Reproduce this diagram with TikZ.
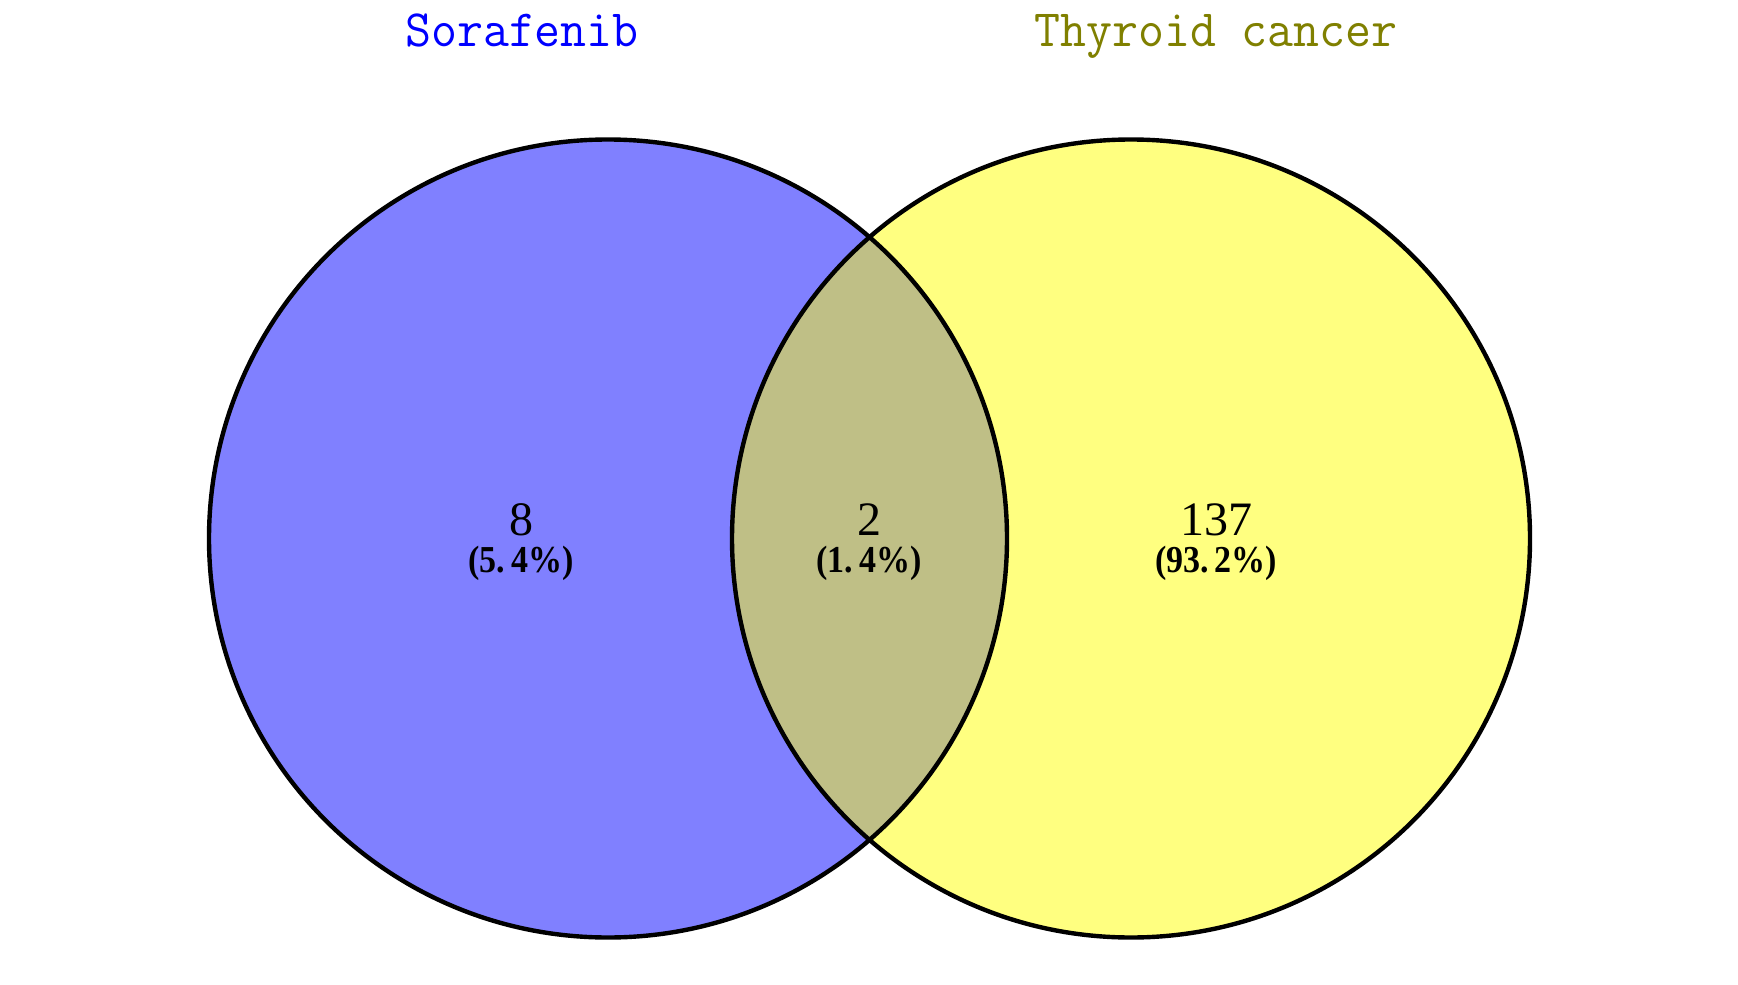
\documentclass[tikz,border=0pt]{standalone}
\usepackage{fontspec}
\setmainfont{Liberation Serif}
\definecolor{setA}{RGB}{128,128,255}
\definecolor{setB}{RGB}{255,255,128}
\definecolor{setAB}{RGB}{191,191,134}
\definecolor{titleA}{RGB}{0,0,255}
\definecolor{titleB}{RGB}{128,128,0}
\begin{document}
\begin{tikzpicture}[x=0.5pt,y=-0.5pt,
  settitle/.style={inner sep=0pt,anchor=base,font=\ttfamily\fontsize{25.2}{27}\selectfont},
  count/.style={inner sep=0pt,anchor=base,font=\fontsize{24}{26}\selectfont},
  pct/.style={inner sep=0pt,anchor=base,font=\bfseries\fontsize{17}{19}\selectfont},
  outline/.style={draw=black,line width=2.2pt}]
\useasboundingbox (0,0) rectangle (1738,984);
\fill[white] (0,0) rectangle (1738,984);
\coordinate (cA) at (608,538.5);
\coordinate (cB) at (1131,538.5);
\fill[setA] (cA) circle[radius=399];
\fill[setB] (cB) circle[radius=399];
\begin{scope}
  \clip (cA) circle[radius=399];
  \fill[setAB] (cB) circle[radius=399];
\end{scope}
\draw[outline] (cA) circle[radius=399];
\draw[outline] (cB) circle[radius=399];
\node[settitle,text=titleA] (tA) at (522,47) {\scalebox{1}[1.04]{Sorafenib}};
\node[settitle,text=titleB] (tB) at (1216,47) {\scalebox{1}[1.04]{Thyroid cancer}};
\node[count] (nA) at (521,535) {8};
\node[pct] (pA) at (521,572) {\scalebox{1}[1.12]{(5.\,4\%)}};
\node[count] (nAB) at (869,535) {2};
\node[pct] (pAB) at (869,572) {\scalebox{1}[1.12]{(1.\,4\%)}};
\node[count] (nB) at (1216,535) {137};
\node[pct] (pB) at (1216,572) {\scalebox{1}[1.12]{(93.\,2\%)}};
\end{tikzpicture}
\end{document}
